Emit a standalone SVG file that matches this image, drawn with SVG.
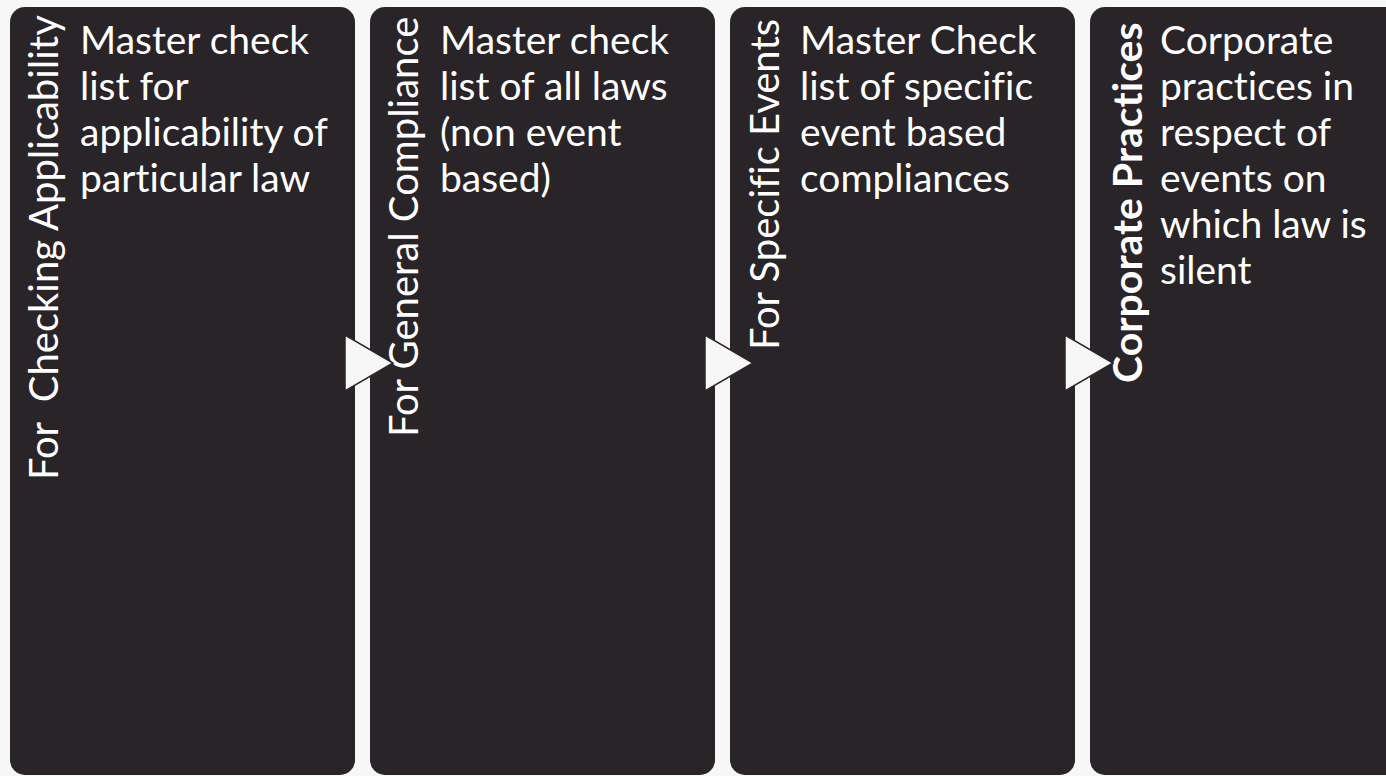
<svg xmlns="http://www.w3.org/2000/svg" width="1386" height="776" viewBox="0 0 1386 776">
  <style>
    .box { fill: #282428; }
    .txt { font-family: Lato, "Open Sans", sans-serif; fill: #ffffff; font-variant-ligatures: none; font-feature-settings: "liga" 0, "dlig" 0; }
    .body { font-size: 39px; }
    .side { font-size: 40px; white-space: pre; }
    .bold { font-weight: bold; font-size: 41px; }
    .arrow { fill: #f7f7f7; stroke: #282428; stroke-width: 1.5; stroke-linejoin: miter; }
  </style>
  <rect x="0" y="0" width="1386" height="776" fill="#f7f7f7"/>

  <g id="step-applicability">
    <rect class="box" x="10" y="7" width="345" height="768" rx="15" ry="15"/>
    <text class="txt side" transform="translate(58,480) rotate(-90)">For  Checking Applicability</text>
    <text class="txt body">
      <tspan x="80" y="54">Master check</tspan>
      <tspan x="80" y="100">list for</tspan>
      <tspan x="80" y="146">applicability of</tspan>
      <tspan x="80" y="192">particular law</tspan>
    </text>
  </g>

  <g id="step-general">
    <rect class="box" x="370" y="7" width="345" height="768" rx="15" ry="15"/>
    <text class="txt side" transform="translate(418,437) rotate(-90)">For General Compliance</text>
    <text class="txt body">
      <tspan x="440" y="54">Master check</tspan>
      <tspan x="440" y="100">list of all laws</tspan>
      <tspan x="440" y="146">(non event</tspan>
      <tspan x="440" y="192">based)</tspan>
    </text>
  </g>

  <g id="step-events">
    <rect class="box" x="730" y="7" width="345" height="768" rx="15" ry="15"/>
    <text class="txt side" transform="translate(779,350) rotate(-90)">For Specific Events</text>
    <text class="txt body">
      <tspan x="800" y="54">Master Check</tspan>
      <tspan x="800" y="100">list of specific</tspan>
      <tspan x="800" y="146">event based</tspan>
      <tspan x="800" y="192">compliances</tspan>
    </text>
  </g>

  <g id="step-corporate">
    <rect class="box" x="1090" y="7" width="345" height="768" rx="15" ry="15"/>
    <text class="txt side bold" transform="translate(1142,383) rotate(-90)">Corporate Practices</text>
    <text class="txt body">
      <tspan x="1160" y="54">Corporate</tspan>
      <tspan x="1160" y="100">practices in</tspan>
      <tspan x="1160" y="146">respect of</tspan>
      <tspan x="1160" y="192">events on</tspan>
      <tspan x="1160" y="238">which law is</tspan>
      <tspan x="1160" y="284">silent</tspan>
    </text>
  </g>

  <g id="connectors">
    <polygon class="arrow" points="345,335 345,391 393,363"/>
    <polygon class="arrow" points="705,335 705,391 753,363"/>
    <polygon class="arrow" points="1065,335 1065,391 1113,363"/>
  </g>
</svg>
